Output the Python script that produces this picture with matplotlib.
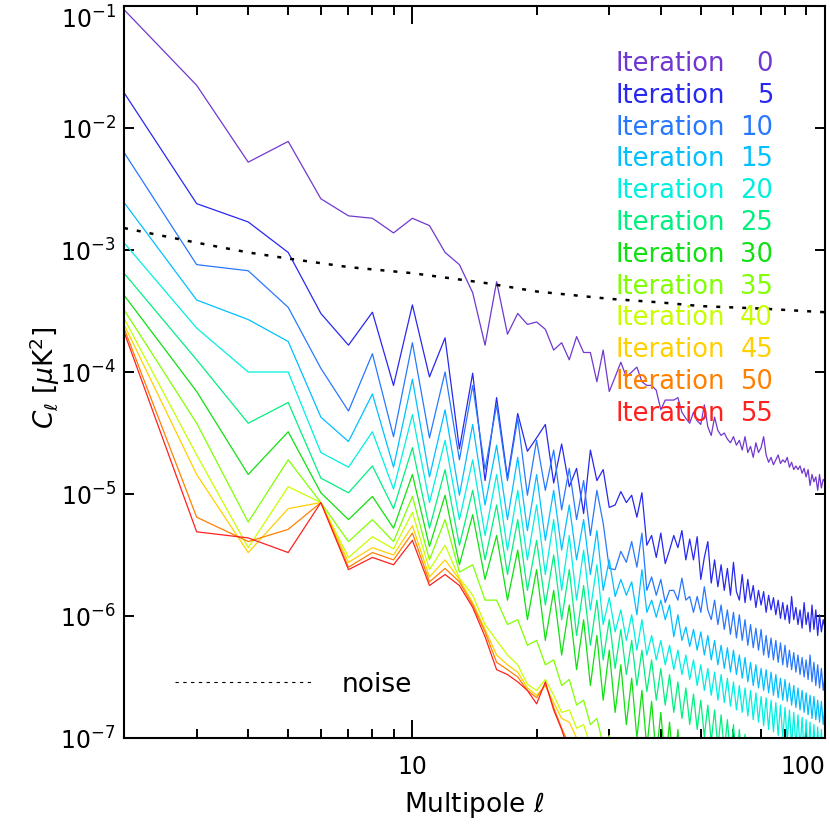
import numpy as np
import matplotlib
matplotlib.use("Agg")
import matplotlib.pyplot as plt
from matplotlib.lines import Line2D
from matplotlib.ticker import FixedLocator, NullLocator, NullFormatter

# multipoles
ell = np.arange(2, 101)

iterations = [0, 5, 10, 15, 20, 25, 30, 35, 40, 45, 50, 55]
colors = ["#7038d0", "#2828f0", "#2878ff", "#00c0ff", "#00f0e0", "#00f080",
          "#10e010", "#80ff00", "#c8ff00", "#ffd000", "#ff8000", "#ff2020"]

# log10(C_ell), ell = 2, 3, ...
it0_log = [-1.03, -1.65, -2.28, -2.11, -2.58, -2.72, -2.74, -2.86, -2.74, -2.80,
           -3.02, -3.12, -3.35, -3.78, -3.26, -3.69, -3.52, -3.61, -3.59, -3.65,
           -3.82, -3.76, -3.90, -3.71, -3.84, -3.84, -4.08, -3.82, -4.16, -4.04,
           -3.92, -4.04, -4.00, -3.96, -4.08, -4.11, -4.11, -4.15, -4.31, -4.23,
           -4.23, -4.23, -4.21, -4.33, -4.38, -4.42, -4.33, -4.40, -4.43, -4.27,
           -4.45, -4.52, -4.37, -4.48, -4.52, -4.50, -4.55, -4.58, -4.53, -4.60,
           -4.56, -4.64, -4.53, -4.66, -4.61, -4.70, -4.58, -4.66, -4.62, -4.53,
           -4.68, -4.74, -4.70, -4.76, -4.72, -4.68, -4.75, -4.72, -4.74, -4.70,
           -4.78, -4.74, -4.80, -4.77, -4.80, -4.77, -4.83, -4.79, -4.86, -4.80,
           -4.93, -4.84, -4.90, -4.86, -4.97, -4.84, -4.95, -4.88, -4.90]
it5_log = [-1.71, -2.62, -2.77, -3.02, -3.52, -3.78, -3.51, -4.11, -3.45, -4.04,
           -3.72, -4.63, -4.01, -4.89, -4.21, -4.87, -4.34, -4.65, -4.54, -4.43,
           -4.91, -4.59, -4.94, -4.79, -5.16, -4.64, -4.89, -4.80, -5.11, -5.09,
           -4.98, -5.07, -5.01, -5.19, -4.99, -5.42, -5.34, -5.52, -5.32, -5.57,
           -5.46, -5.34, -5.44, -5.30, -5.54, -5.37, -5.54, -5.35, -5.70, -5.52,
           -5.39, -5.73, -5.54, -5.76, -5.58, -5.79, -5.61, -5.83, -5.56, -5.80,
           -5.87, -5.66, -5.89, -5.70, -5.87, -5.75, -5.93, -5.79, -5.91, -5.80,
           -5.97, -5.83, -5.95, -5.85, -5.99, -5.87, -6.02, -5.89, -6.03, -5.91,
           -6.06, -5.84, -6.03, -5.93, -6.07, -5.95, -6.10, -5.89, -6.07, -5.97,
           -6.13, -5.91, -6.11, -5.95, -6.16, -5.99, -6.13, -6.03, -6.10]
it10_log = [-2.20, -3.12, -3.17, -3.47, -3.97, -4.32, -3.85, -4.53, -3.76, -4.54,
            -4.00, -4.72, -4.11, -4.80, -4.27, -4.89, -4.38, -5.01, -4.56, -4.97,
            -4.64, -5.13, -4.79, -5.21, -4.89, -5.34, -4.97, -5.24, -5.61, -5.62,
            -5.47, -5.56, -5.39, -5.60, -5.32, -5.79, -5.68, -5.83, -5.70, -5.89,
            -5.79, -5.79, -5.87, -5.69, -5.87, -5.84, -5.97, -5.84, -5.97, -5.76,
            -5.95, -6.03, -5.87, -6.07, -5.91, -6.11, -5.95, -6.15, -5.97, -6.18,
            -5.99, -6.20, -6.03, -6.24, -6.07, -6.26, -6.10, -6.28, -6.11, -6.32,
            -6.16, -6.34, -6.18, -6.36, -6.20, -6.38, -6.22, -6.40, -6.24, -6.42,
            -6.28, -6.44, -6.30, -6.46, -6.32, -6.48, -6.34, -6.50, -6.36, -6.52,
            -6.32, -6.54, -6.38, -6.57, -6.40, -6.59, -6.43, -6.61, -6.48]
it15_log = [-2.61, -3.41, -3.57, -3.75, -4.37, -4.57, -4.18, -4.78, -4.06, -4.86,
            -4.31, -5.01, -4.43, -5.09, -4.60, -5.21, -4.70, -5.30, -4.84, -5.38,
            -4.97, -5.46, -5.09, -5.54, -5.21, -5.66, -5.30, -5.79, -5.54, -5.84,
            -5.70, -5.83, -5.72, -5.99, -5.62, -5.97, -5.87, -6.01, -5.87, -6.03,
            -5.91, -6.17, -5.99, -6.20, -6.09, -6.25, -6.11, -6.28, -6.13, -6.32,
            -6.16, -6.36, -6.20, -6.40, -6.24, -6.43, -6.26, -6.46, -6.28, -6.48,
            -6.32, -6.51, -6.34, -6.54, -6.38, -6.57, -6.40, -6.59, -6.43, -6.61,
            -6.44, -6.63, -6.46, -6.65, -6.48, -6.67, -6.51, -6.69, -6.52, -6.70,
            -6.55, -6.73, -6.57, -6.75, -6.59, -6.77, -6.61, -6.79, -6.63, -6.81,
            -6.65, -6.84, -6.66, -6.85, -6.69, -6.87, -6.70, -6.89, -6.73]
it20_log = [-2.94, -3.64, -4.00, -4.00, -4.66, -4.78, -4.49, -4.96, -4.35, -5.07,
            -4.56, -5.21, -4.72, -5.34, -4.84, -5.46, -4.97, -5.54, -5.09, -5.66,
            -5.21, -5.79, -5.34, -5.87, -5.46, -5.95, -5.58, -6.07, -5.85, -6.13,
            -5.95, -6.20, -5.99, -6.28, -6.03, -6.32, -6.16, -6.36, -6.20, -6.40,
            -6.24, -6.44, -6.28, -6.48, -6.32, -6.52, -6.36, -6.57, -6.40, -6.61,
            -6.43, -6.65, -6.46, -6.69, -6.48, -6.71, -6.51, -6.74, -6.54, -6.77,
            -6.57, -6.79, -6.59, -6.82, -6.61, -6.85, -6.63, -6.87, -6.66, -6.90,
            -6.67, -6.93, -6.69, -6.95, -6.71, -6.98, -6.73, -7.00, -6.75, -7.03,
            -6.77, -7.06, -6.79, -7.08, -6.81, -7.10, -6.83, -7.12, -6.85, -7.15,
            -6.87, -7.16, -6.89, -7.18, -6.91, -7.20, -6.93, -7.22, -6.95]
it25_log = [-3.19, -3.90, -4.42, -4.25, -4.87, -4.99, -4.77, -5.12, -4.62, -5.28,
            -4.80, -5.42, -4.97, -5.54, -5.09, -5.66, -5.21, -5.79, -5.38, -5.91,
            -5.50, -6.03, -5.62, -6.16, -5.75, -6.24, -5.87, -6.36, -6.03, -6.43,
            -6.11, -6.48, -6.20, -6.57, -6.28, -6.62, -6.36, -6.69, -6.43, -6.73,
            -6.48, -6.79, -6.54, -6.84, -6.59, -6.89, -6.64, -6.93, -6.69, -6.99,
            -6.73, -7.03, -6.77, -7.08, -6.81, -7.11, -6.85, -7.16, -6.89, -7.20,
            -6.93, -7.24, -6.97, -7.26, -7.00, -7.30, -7.03, -7.33, -7.07, -7.36,
            -7.10, -7.39, -7.13, -7.43, -7.16]
it30_log = [-3.37, -4.16, -4.84, -4.49, -4.99, -5.21, -5.02, -5.28, -4.84, -5.43,
            -5.01, -5.58, -5.17, -5.70, -5.34, -5.87, -5.46, -6.03, -5.62, -6.20,
            -5.79, -6.32, -5.91, -6.44, -6.03, -6.57, -6.16, -6.69, -6.28, -6.79,
            -6.40, -6.89, -6.51, -7.00, -6.61, -7.08, -6.70, -7.16, -6.79, -7.22,
            -6.87, -7.28, -6.93, -7.34, -7.00, -7.39, -7.06, -7.43, -7.10]
it35_log = [-3.49, -4.42, -5.23, -4.72, -5.07, -5.39, -5.21, -5.39, -5.02, -5.54,
            -5.21, -5.64, -5.58, -5.87, -5.87, -6.07, -6.03, -6.24, -6.20, -6.40,
            -6.36, -6.57, -6.52, -6.73, -6.69, -6.89, -6.84, -7.06, -6.98, -7.22,
            -7.11, -7.39]
it40_log = [-3.56, -4.68, -5.44, -4.94, -5.07, -5.52, -5.35, -5.45, -5.15, -5.62,
            -5.42, -5.69, -5.83, -6.07, -6.20, -6.32, -6.40, -6.56, -6.61, -6.52,
            -6.65, -6.79, -6.77, -6.92, -6.89, -7.06, -7.03, -7.20]
it45_log = [-3.61, -4.84, -5.48, -5.12, -5.07, -5.56, -5.44, -5.50, -5.26, -5.68,
            -5.54, -5.70, -5.89, -6.11, -6.32, -6.40, -6.46, -6.59, -6.65, -6.57,
            -6.71, -6.84, -6.87, -7.00, -7.03, -7.18]
it50_log = [-3.64, -5.19, -5.39, -5.29, -5.07, -5.60, -5.48, -5.54, -5.32, -5.72,
            -5.61, -5.72, -5.91, -6.13, -6.38, -6.44, -6.50, -6.61, -6.67, -6.56,
            -6.75, -6.92, -7.06, -7.22]
it55_log = [-3.67, -5.31, -5.36, -5.48, -5.07, -5.62, -5.52, -5.58, -5.38, -5.75,
            -5.66, -5.75, -5.93, -6.17, -6.44, -6.48, -6.54, -6.61, -6.72, -6.54,
            -6.77, -6.93, -7.12]

series = [it0_log, it5_log, it10_log, it15_log, it20_log, it25_log,
          it30_log, it35_log, it40_log, it45_log, it50_log, it55_log]

# noise spectrum
noise_ell = [2, 3, 4, 5, 7, 10, 15, 20, 30, 40, 50, 70, 100]
noise_log = [-2.82, -2.94, -3.02, -3.07, -3.14, -3.19, -3.27, -3.34, -3.40,
             -3.43, -3.46, -3.48, -3.51]

plt.rcParams["font.family"] = ["DejaVu Sans"]
plt.rcParams["mathtext.fontset"] = "dejavusans"

W = 830.0
fig = plt.figure(figsize=(8.3, 8.3), dpi=100)
ax = fig.add_axes([124 / W, 1 - 738 / W, 701 / W, 732 / W])

for vals, c in zip(series, colors):
    n = len(vals)
    ax.plot(ell[:n], 10 ** np.array(vals), color=c, lw=0.9)

ax.plot(noise_ell, 10 ** np.array(noise_log), color="black", lw=1.8,
        linestyle=(0, (1.6, 3.6)))

ax.set_xscale("log")
ax.set_yscale("log")
ax.set_xlim(2, 100)
ax.set_ylim(1e-7, 1e-1)

ax.set_xticks([10, 100], labels=["10", "100"])
ax.xaxis.set_minor_locator(FixedLocator([3, 4, 5, 6, 7, 8, 9,
                                         20, 30, 40, 50, 60, 70, 80, 90]))
ax.xaxis.set_minor_formatter(NullFormatter())
yt = [1e-7, 1e-6, 1e-5, 1e-4, 1e-3, 1e-2, 1e-1]
ax.set_yticks(yt, labels=[r"$10^{%d}$" % e for e in range(-7, 0)])
ax.yaxis.set_minor_locator(NullLocator())

ax.tick_params(which="both", direction="in", top=True, right=True,
               width=1.4, labelsize=17, color="black")
ax.tick_params(axis="x", which="major", length=13, pad=12)
ax.tick_params(axis="x", which="minor", length=6.5)
ax.tick_params(axis="y", which="major", length=7, pad=6)
ax.get_xticklabels()[1].set_horizontalalignment("right")
ax.get_yticklabels()[-1].set_verticalalignment("top")

for sp in ax.spines.values():
    sp.set_linewidth(1.5)

# labels
fig.text(474 / W, 1 - 805 / W, r"Multipole $\ell$", ha="center", va="center",
         fontsize=19)
fig.text(45 / W, 1 - 378 / W, r"$C_\ell\ [\mu\mathrm{K}^2]$", rotation=90,
         ha="center", va="center", fontsize=19)

# iteration list
for i, (it, c) in enumerate(zip(iterations, colors)):
    base = 71 + 31.8 * i
    fig.text(725 / W, 1 - base / W, "Iteration", color=c, ha="right",
             va="baseline", fontsize=18.5)
    fig.text(773 / W, 1 - base / W, str(it), color=c, ha="right",
             va="baseline", fontsize=18.5)

# noise key
fig.add_artist(Line2D([175 / W, 312 / W], [1 - 682 / W, 1 - 682 / W],
                      color="black", lw=0.8, linestyle=(0, (3, 4))))
fig.text(342 / W, 1 - 692 / W, "noise", ha="left", va="baseline", fontsize=19)

fig.savefig("out.png", dpi=100)
